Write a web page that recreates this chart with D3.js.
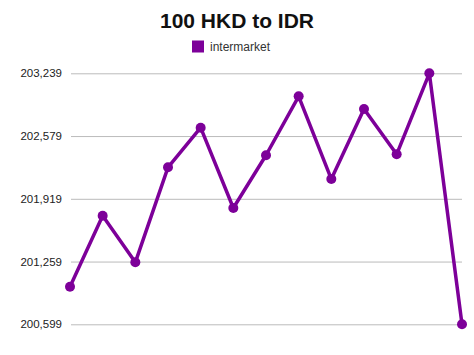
<!DOCTYPE html>
<html><head><meta charset="utf-8">
<script src="https://cdn.jsdelivr.net/npm/d3@7"></script>
<style>body{margin:0;background:#fff;}svg{display:block;font-family:"Liberation Sans",Arial,sans-serif;}</style>
</head><body>
<svg id="c" width="474" height="355"></svg>
<script>
const points = [1,2,3,4,5,6,7,8,9,10,11,12,13];
const values = [200994,201741,201251,202250,202667,201822,202377,202997,202127,202864,202387,203239,200599];
const tickValues = [200599,201259,201919,202579,203239];
const seriesName = "intermarket";
const title = "100 HKD to IDR";
const color = "#7d0099";

const svg = d3.select("#c");
const x = d3.scalePoint().domain(points).range([70, 462]);
const y = d3.scaleLinear().domain([200599, 203239]).range([324.3, 73.3]);

svg.append("text").attr("x", 237).attr("y", 28).attr("text-anchor","middle")
  .attr("font-size", 21).attr("font-weight","bold").attr("fill","#111").text(title);
svg.append("rect").attr("x",192).attr("y",40.5).attr("width",12).attr("height",12).attr("fill",color);
svg.append("text").attr("x",210).attr("y",50.5).attr("font-size",12).attr("fill","#333").text(seriesName);

const axis = d3.axisLeft(y).tickValues(tickValues).tickSize(-391).tickPadding(9)
  .tickFormat(d3.format(","));
const g = svg.append("g").attr("transform","translate(71,0)").call(axis);
g.select(".domain").remove();
g.selectAll(".tick line").attr("stroke","#bbb").attr("stroke-width",1);
g.selectAll(".tick text").attr("font-size",11.5).attr("fill","#222").attr("font-family","Liberation Sans, Arial, sans-serif");

const line = d3.line().x((d,i)=>x(points[i])).y(d=>y(d));
svg.append("path").datum(values).attr("d", line).attr("fill","none")
  .attr("stroke", color).attr("stroke-width",3.5).attr("stroke-linejoin","round");
svg.selectAll("circle.pt").data(values).enter().append("circle").attr("class","pt")
  .attr("cx",(d,i)=>x(points[i])).attr("cy",d=>y(d)).attr("r",5).attr("fill",color);
</script>
</body></html>
